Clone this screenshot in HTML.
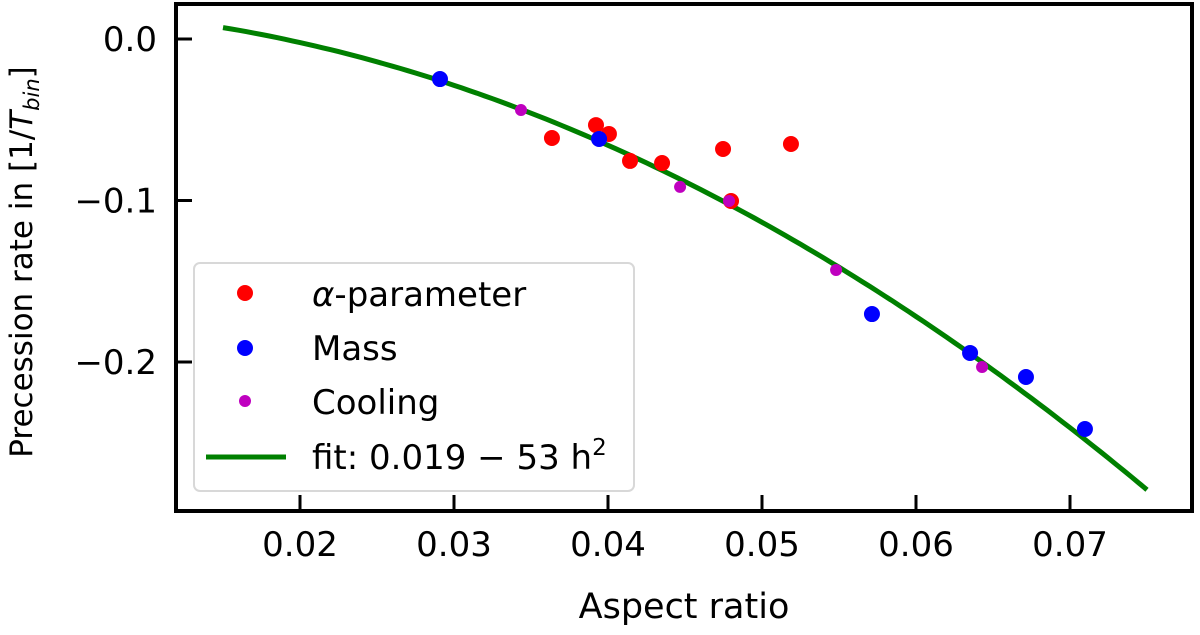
<!DOCTYPE html>
<html><head><meta charset="utf-8"><style>
body{margin:0;background:#fff;}
svg{display:block;font-family:"DejaVu Sans","Liberation Sans",sans-serif;}
</style></head><body>
<svg id="chart" width="1200" height="635"></svg>
<script>
const redX=[0.03636,0.03922,0.04006,0.04143,0.04351,0.04747,0.05188,0.04799];
const redY=[-0.0613,-0.0533,-0.0588,-0.0755,-0.0768,-0.0681,-0.0650,-0.1003];
const blueX=[0.02909,0.03942,0.05714,0.06351,0.06714,0.07097];
const blueY=[-0.0248,-0.0619,-0.1703,-0.1944,-0.2093,-0.2415];
const magX=[0.03435,0.04468,0.04786,0.05481,0.06429];
const magY=[-0.0440,-0.0916,-0.1003,-0.1430,-0.2031];
const fitA=0.019, fitB=53, fitMin=0.015, fitMax=0.075;
const xTicks=[0.02,0.03,0.04,0.05,0.06,0.07];
const xTickLabels=["0.02","0.03","0.04","0.05","0.06","0.07"];
const yTicks=[0,-0.1,-0.2];
const yTickLabels=["0.0","\u22120.1","\u22120.2"];

const NS="http://www.w3.org/2000/svg";
const svg=document.getElementById('chart');
const L=176,R=1192,T=4,B=511;
function sx(v){return 300+(v-0.02)*15400;}
function sy(v){return 39-v*1615;}
function mk(tag,attrs,parent){const e=document.createElementNS(NS,tag);for(const k in attrs)e.setAttribute(k,attrs[k]);(parent||svg).appendChild(e);return e;}

let d="";
for(let i=0;i<=120;i++){const h=fitMin+(fitMax-fitMin)*i/120;const y=fitA-fitB*h*h;d+=(i?"L":"M")+sx(h).toFixed(1)+","+sy(y).toFixed(1);}
const fit=mk('path',{d:d,fill:'none',stroke:'#008000','stroke-width':5});



function pts(xs,ys,color,r,name){
  xs.forEach((x,i)=>{
    const c=mk('circle',{cx:sx(x),cy:sy(ys[i]),r:r,fill:color});
    
    
  });
}
pts(redX,redY,'#ff0000',8,'alpha-point');
pts(blueX,blueY,'#0000ff',8,'mass-point');
pts(magX,magY,'#bf00bf',6,'cooling-point');

const fr=mk('rect',{x:L,y:T,width:R-L,height:B-T,fill:'none',stroke:'#000','stroke-width':4});



xTicks.forEach((v,i)=>{
  const x=sx(v);
  const t=mk('line',{x1:x,x2:x,y1:B,y2:B-16,stroke:'#000','stroke-width':3});
  
  
  const lb=mk('text',{x:x,y:556,'text-anchor':'middle','font-size':34});
  lb.textContent=xTickLabels[i];
  
  
});
yTicks.forEach((v,i)=>{
  const y=sy(v);
  const t=mk('line',{x1:L,x2:L+16,y1:y,y2:y,stroke:'#000','stroke-width':3});
  
  
  const lb=mk('text',{x:157,y:y+12,'text-anchor':'end','font-size':34});
  lb.textContent=yTickLabels[i];
  
  
});
</script>
<svg style="position:absolute;left:0;top:0" width="1200" height="635">
<text x="684" y="618" text-anchor="middle" font-size="35" font-family="DejaVu Sans, Liberation Sans, sans-serif">Aspect ratio</text>
<text transform="translate(32,262) rotate(-90)" text-anchor="middle" font-size="31" font-family="DejaVu Sans, Liberation Sans, sans-serif">Precession rate in [1/<tspan font-style="italic">T</tspan><tspan font-style="italic" font-size="21" dy="7">bin</tspan><tspan dy="-7">]</tspan></text>
<g font-family="DejaVu Sans, Liberation Sans, sans-serif" font-size="34">
<rect x="194" y="263" width="440" height="228" rx="6" fill="#fff" fill-opacity="0.85" stroke="#d8d8d8" stroke-width="2"/>
<circle cx="245" cy="293" r="8" fill="#ff0000"/>
<text x="312" y="306"><tspan font-style="italic">α</tspan>-parameter</text>
<circle cx="245" cy="348" r="8" fill="#0000ff"/>
<text x="312" y="360">Mass</text>
<circle cx="245" cy="401" r="6" fill="#bf00bf"/>
<text x="312" y="414">Cooling</text>
<line x1="206" x2="286" y1="457" y2="457" stroke="#008000" stroke-width="5"/>
<text x="312" y="469">fit: 0.019 − 53 h<tspan font-size="23" dy="-14">2</tspan></text>
</g>
</svg>
</body></html>
